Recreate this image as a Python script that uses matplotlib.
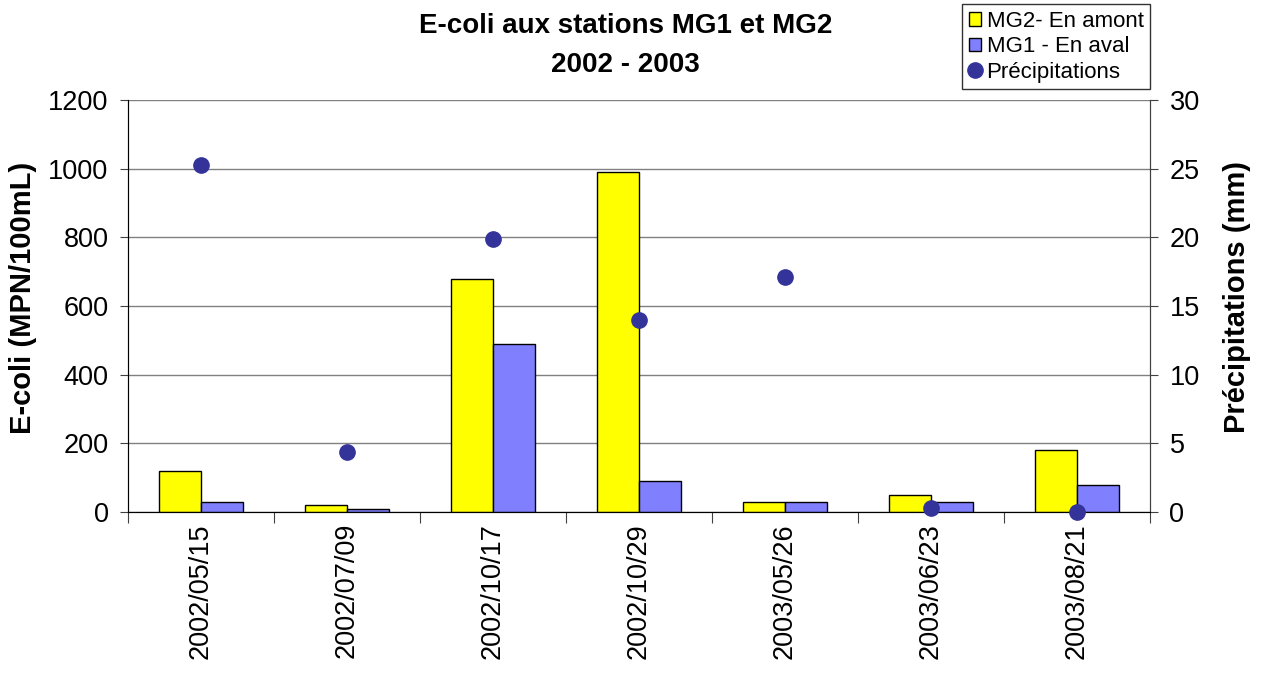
import matplotlib
matplotlib.use("Agg")
import matplotlib.pyplot as plt
import numpy as np

dates = ["2002/05/15", "2002/07/09", "2002/10/17", "2002/10/29", "2003/05/26", "2003/06/23", "2003/08/21"]
mg2_amont = [120, 20, 680, 990, 28, 50, 180]
mg1_aval = [28, 8, 490, 90, 28, 28, 80]
precip = [25.3, 4.4, 19.9, 14.0, 17.1, 0.3, 0.0]

plt.rcParams['font.family'] = ['Liberation Sans', 'DejaVu Sans']

fig = plt.figure(figsize=(12.61, 6.75), dpi=100)
ax = fig.add_axes([0.1015, 0.2415, 0.8105, 0.6104])
x = np.arange(len(dates))
w = 0.288
ax.bar(x - w/2, mg2_amont, w, color="#FFFF00", edgecolor="black", linewidth=1, zorder=3, label="MG2- En amont")
ax.bar(x + w/2, mg1_aval, w, color="#8080FF", edgecolor="black", linewidth=1, zorder=3, label="MG1 - En aval")
ax.set_xlim(-0.5, len(dates) - 0.5)
ax.set_ylim(0, 1200)
ax.set_yticks(np.arange(0, 1201, 200))
ax.yaxis.grid(True, color="#808080", linewidth=1, zorder=0)
ax.set_axisbelow(True)
ax.set_xticks(np.arange(-0.5, len(dates), 1.0))
ax.set_xticklabels([])
ax.set_xticks(x, minor=True)
ax.set_xticklabels(dates, minor=True, rotation=90, fontsize=19.5)
ax.tick_params(axis="x", which="major", length=8, direction="out", color="#404040")
ax.tick_params(axis="x", which="minor", length=0, pad=8)
ax.tick_params(axis="y", length=6, direction="out", labelsize=19.5, color="#404040", pad=8)
ax.set_ylabel("E-coli (MPN/100mL)", fontsize=21, fontweight="bold")
ax.yaxis.set_label_coords(-0.089, 0.52)
ax.spines["top"].set_visible(False)
for s in ["left", "right", "bottom"]:
    ax.spines[s].set_color("#404040")

ax2 = ax.twinx()
ax2.plot(x, precip, linestyle="none", marker="o", markersize=11, color="#333399", label="Précipitations", zorder=5, clip_on=False)
ax2.set_ylim(0, 30)
ax2.set_yticks(np.arange(0, 31, 5))
ax2.tick_params(axis="y", length=6, direction="out", labelsize=19.5, color="#404040", pad=8)
ax2.set_ylabel("Précipitations (mm)", fontsize=21, fontweight="bold")
ax2.yaxis.set_label_coords(1.0715, 0.522)
ax2.spines["top"].set_visible(False)
ax2.spines["right"].set_color("#404040")

fig.text(0.496, 0.962, "E-coli aux stations MG1 et MG2", ha="center", va="center", fontsize=20, fontweight="bold")
fig.text(0.496, 0.903, "2002 - 2003", ha="center", va="center", fontsize=20, fontweight="bold")

h1, l1 = ax.get_legend_handles_labels()
h2, l2 = ax2.get_legend_handles_labels()
leg = fig.legend(h1 + h2, l1 + l2, loc="upper left", bbox_to_anchor=(0.763, 0.994),
                 fontsize=16, frameon=True, fancybox=False, edgecolor="black",
                 handlelength=0.55, handleheight=0.55, handletextpad=0.25, borderpad=0.3,
                 labelspacing=0.2, borderaxespad=0)
leg.get_frame().set_linewidth(1)

fig.savefig("out.png", dpi=100)
